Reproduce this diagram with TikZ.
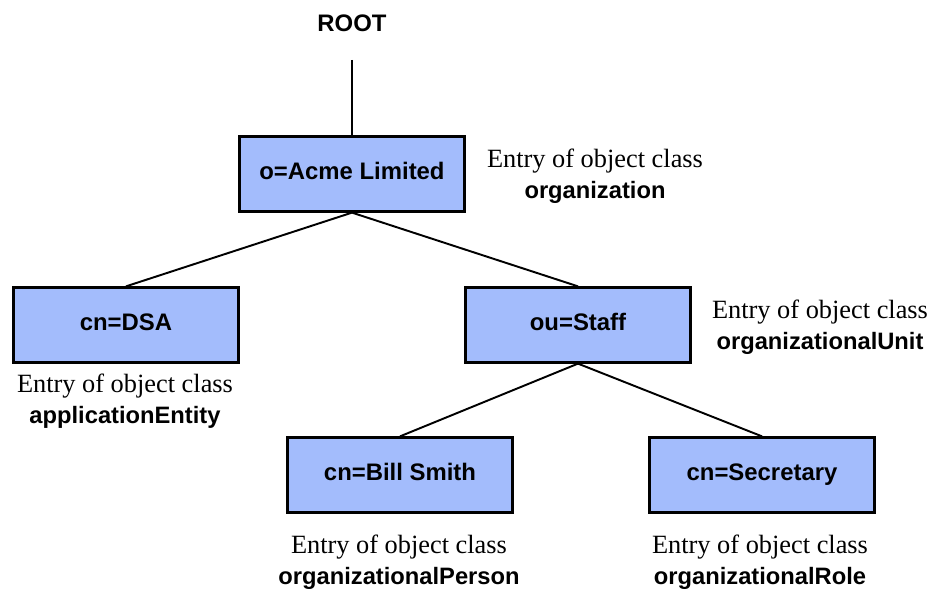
\documentclass[tikz,border=0pt]{standalone}
\usepackage{fontspec}
\setmainfont{Liberation Serif}
\setsansfont{Liberation Sans}
\definecolor{entryblue}{HTML}{A3BCFC}
\tikzset{
  entry/.style={draw=black, line width=1.3pt, fill=entryblue, minimum width=4.5cm, minimum height=1.5cm,
    text height=0.62em, text depth=0pt,
    font=\sffamily\bfseries\fontsize{13.6}{16}\selectfont},
  classlabel/.style={align=center, font=\fontsize{15}{17.6}\selectfont},
  link/.style={line width=1.1pt}
}
\newcommand{\objclass}[1]{Entry of object class\\{\sffamily\bfseries\fontsize{13.5}{17.6}\selectfont #1}}
\begin{document}
\begin{tikzpicture}[x=0.02cm, y=-0.02cm]
		%%%%% START %%%%%
		\useasboundingbox (0, 0) rectangle (940, 590);
		
		\node[font=\sffamily\bfseries\fontsize{13.6}{16}\selectfont] (root) at (352, 23) {ROOT};
		\coordinate (rootend) at (352, 60);
		
		\node[entry] (acme) at (352, 174) {o=Acme Limited};
		\node[entry] (dsa) at (126, 325) {cn=DSA};
		\node[entry] (staff) at (578, 325) {ou=Staff};
		\node[entry] (bill) at (400, 475) {cn=Bill Smith};
		\node[entry] (secretary) at (762, 475) {cn=Secretary};
		
		\draw[link] (rootend) -- (acme.north);
		\draw[link] (acme.south) -- (dsa.north);
		\draw[link] (acme.south) -- (staff.north);
		\draw[link] (staff.south) -- (bill.north);
		\draw[link] (staff.south) -- (secretary.north);
		
		\node[classlabel] (acmeclass) at (595, 176) {\objclass{organization}};
		\node[classlabel] (dsaclass) at (125, 401) {\objclass{applicationEntity}};
		\node[classlabel] (staffclass) at (820, 327) {\objclass{organizationalUnit}};
		\node[classlabel] (billclass) at (399, 562) {\objclass{organizationalPerson}};
		\node[classlabel] (secretaryclass) at (760, 562) {\objclass{organizationalRole}};
		%%%%% END %%%%%
\end{tikzpicture}
\end{document}
